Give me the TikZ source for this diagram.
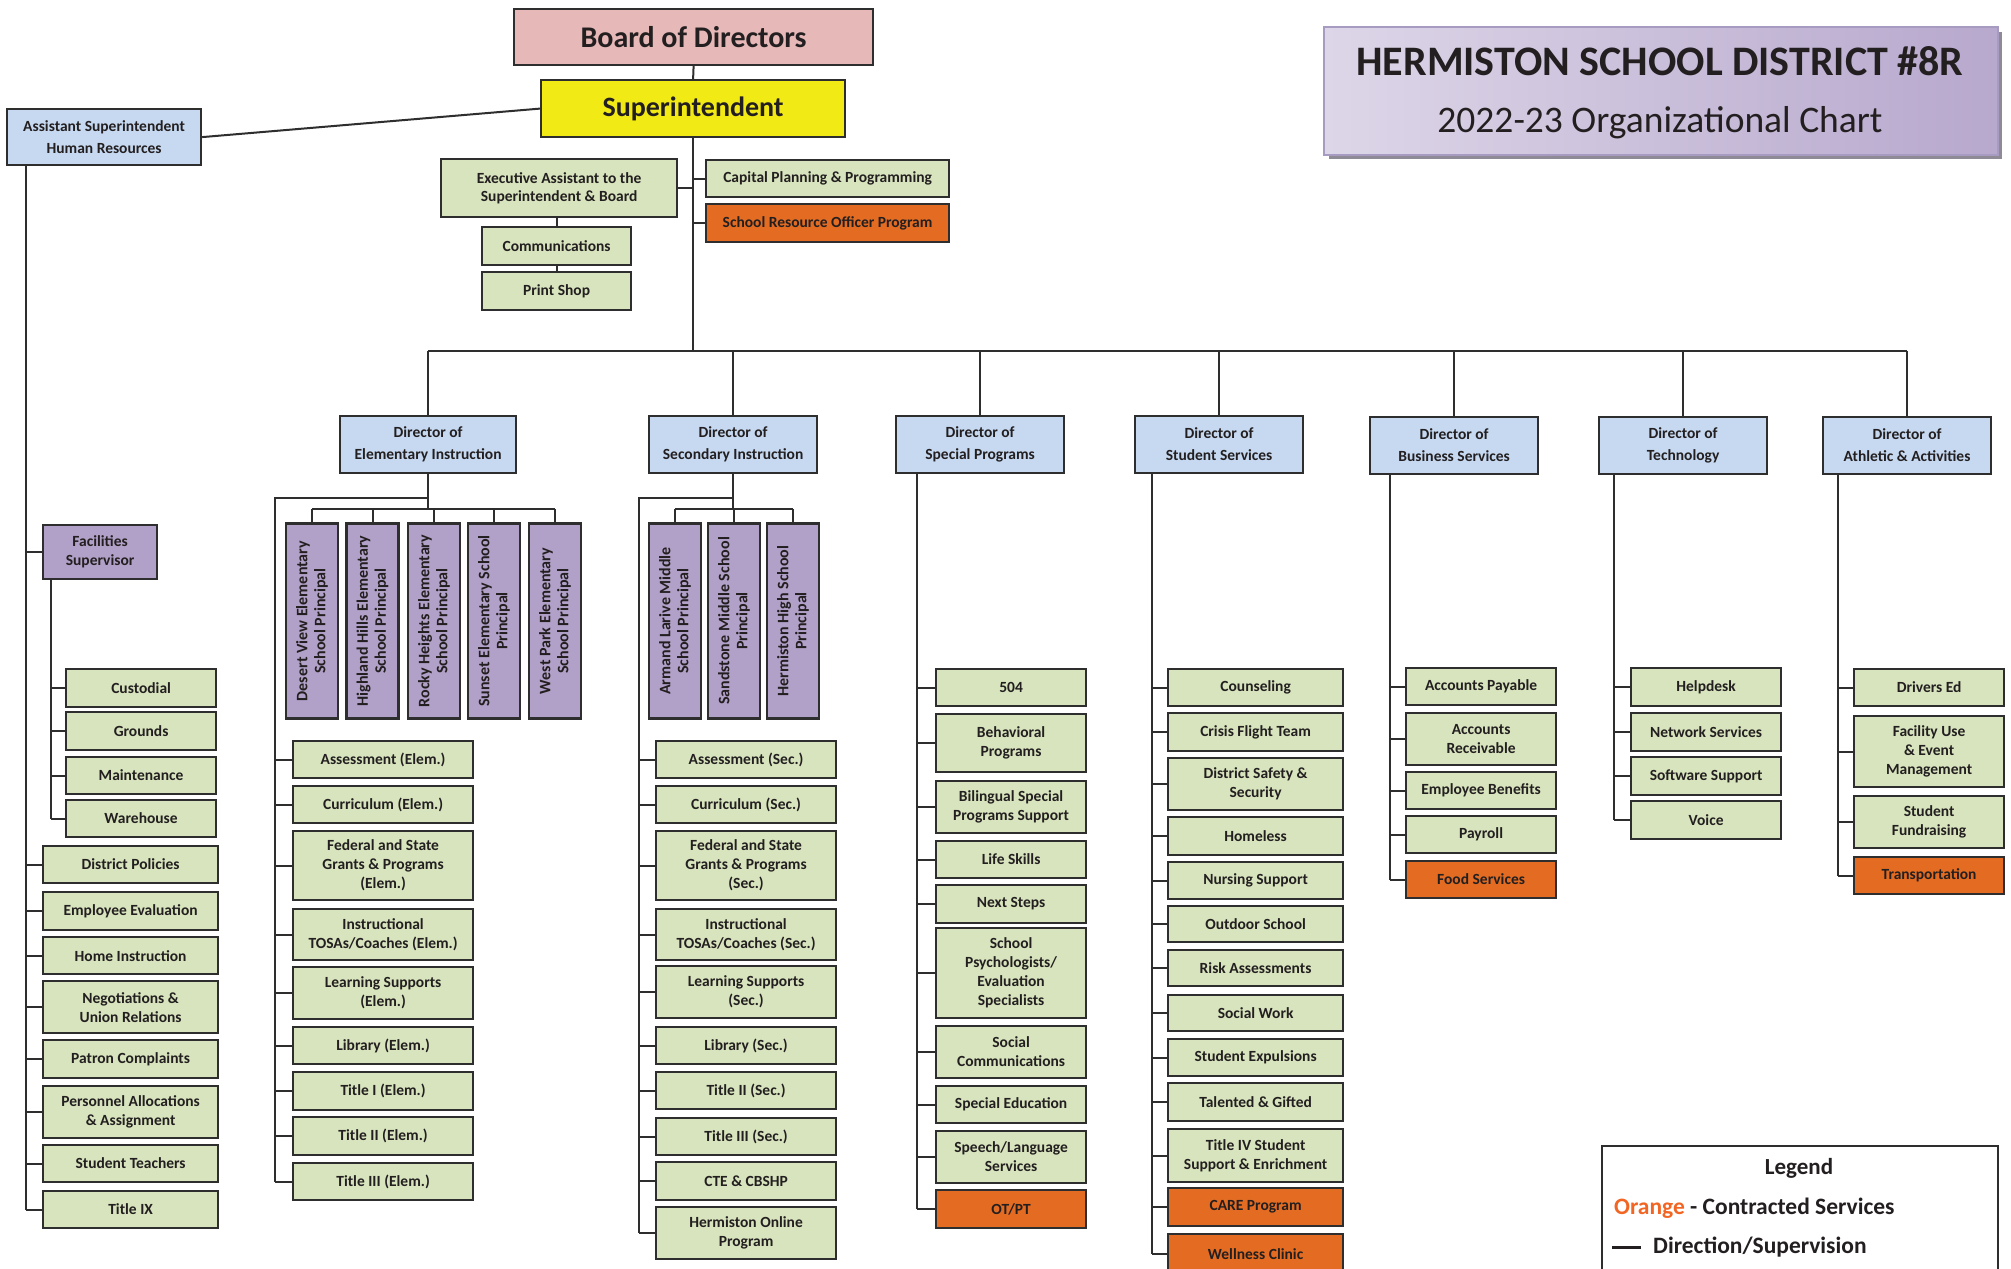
\documentclass[tikz,border=0pt]{standalone}
\usepackage{fontspec}
\setmainfont{Carlito}
\definecolor{gfill}{HTML}{D7E4BD}
\definecolor{bfill}{HTML}{C6D9F1}
\definecolor{pfill}{HTML}{B1A0C7}
\definecolor{ofill}{HTML}{E36C22}
\definecolor{boardfill}{HTML}{E6B8B7}
\definecolor{suptfill}{HTML}{F2EA14}
\definecolor{bord}{HTML}{2E2E2E}
\definecolor{txt}{HTML}{231F20}
\definecolor{legor}{HTML}{F26522}
\definecolor{tleft}{HTML}{DDD6E8}
\definecolor{tmid}{HTML}{E8E3EF}
\definecolor{tright}{HTML}{B7A8CD}
\definecolor{tborder}{HTML}{A89BC2}
\definecolor{tshadow}{HTML}{8E8A96}
\newcommand\bx[7]{\node[#1,minimum width=#5pt,minimum height=#6pt,anchor=north west] (#2) at (#3,#4) {#7};}
\begin{document}
\begin{tikzpicture}[x=1pt,y=-1pt,
  basebx/.style={draw=bord, line width=2.2pt, text=txt, align=center, inner sep=2pt, font=\bfseries\fontsize{15.5}{19}\selectfont},
  gbx/.style={basebx, fill=gfill},
  obx/.style={basebx, fill=ofill},
  dirbx/.style={basebx, fill=bfill, font=\bfseries\fontsize{15.5}{22}\selectfont},
  pbx/.style={basebx, fill=pfill, font=\bfseries\fontsize{16}{18}\selectfont, rotate=90, minimum width=195pt, minimum height=52pt},
  facbx/.style={basebx, fill=pfill, font=\bfseries\fontsize{15.5}{19}\selectfont},
  conn/.style={draw=bord, line width=2pt},
]
\useasboundingbox (0,0) rectangle (2011,1269);
\fill[white] (0,0) rectangle (2011,1269);

% title
\fill[tshadow] (1329,32) rectangle (2002,159);
\node[draw=tborder, line width=2pt, left color=tleft, middle color=tmid, right color=tright, minimum width=674pt, minimum height=128pt, anchor=north west] (title) at (1323,26) {};
\node[text=txt, font=\bfseries\fontsize{42}{48}\selectfont] (t1) at (1660,61) {HERMISTON SCHOOL DISTRICT \#8R};
\node[text=txt, font=\fontsize{37.5}{44}\selectfont] (t2) at (1660,123) {2022-23 Organizational Chart};

% top
\bx{basebx,fill=boardfill,font=\bfseries\fontsize{30}{34}\selectfont}{board}{513}{8}{359}{56}{Board of Directors}
\bx{basebx,fill=suptfill,font=\bfseries\fontsize{28}{32}\selectfont}{supt}{540}{79}{304}{57}{Superintendent}
\bx{dirbx}{asst}{6}{108}{194}{56}{Assistant Superintendent\\Human Resources}
\bx{gbx,font=\bfseries\fontsize{15.5}{18}\selectfont}{exec}{440}{158}{236}{58}{Executive Assistant to the\\Superintendent \& Board}
\bx{gbx}{cap}{705}{159}{243}{37}{Capital Planning \& Programming}
\bx{obx}{sro}{705}{203}{243}{38}{School Resource Officer Program}
\bx{gbx}{comm}{481}{226}{149}{38}{Communications}
\bx{gbx}{print}{481}{271}{149}{38}{Print Shop}

% directors
\bx{dirbx}{delem}{339}{415}{176}{57}{Director of\\Elementary Instruction}
\bx{dirbx}{dsec}{648}{415}{168}{57}{Director of\\Secondary Instruction}
\bx{dirbx}{dsp}{895}{415}{168}{57}{Director of\\Special Programs}
\bx{dirbx}{dss}{1134}{415}{168}{57}{Director of\\Student Services}
\bx{dirbx}{dbs}{1369}{416}{168}{57}{Director of\\Business Services}
\bx{dirbx}{dtc}{1598}{416}{168}{57}{Director of\\Technology}
\bx{dirbx}{dat}{1822}{416}{168}{57}{Director of\\Athletic \& Activities}

% HR column
\bx{facbx}{fac}{42}{524}{114}{54}{Facilities\\Supervisor}
\bx{gbx}{f1}{65}{668}{150}{38}{Custodial}
\bx{gbx}{f2}{65}{711}{150}{38}{Grounds}
\bx{gbx}{f3}{65}{756}{150}{37}{Maintenance}
\bx{gbx}{f4}{65}{799}{150}{37}{Warehouse}
\bx{gbx}{h1}{42}{845}{175}{37}{District Policies}
\bx{gbx}{h2}{42}{891}{175}{38}{Employee Evaluation}
\bx{gbx}{h3}{42}{936}{175}{37}{Home Instruction}
\bx{gbx}{h4}{42}{980}{175}{52}{Negotiations \&\\Union Relations}
\bx{gbx}{h5}{42}{1039}{175}{38}{Patron Complaints}
\bx{gbx}{h6}{42}{1085}{175}{52}{Personnel Allocations\\\& Assignment}
\bx{gbx}{h7}{42}{1144}{175}{37}{Student Teachers}
\bx{gbx}{h8}{42}{1190}{175}{37}{Title IX}

% Elementary
\node[pbx] (ep1) at (312,621) {Desert View Elementary\\School Principal};
\node[pbx] (ep2) at (372.5,621) {Highland Hills Elementary\\School Principal};
\node[pbx] (ep3) at (434,621) {Rocky Heights Elementary\\School Principal};
\node[pbx] (ep4) at (494,621) {Sunset Elementary School\\Principal};
\node[pbx] (ep5) at (555,621) {West Park Elementary\\School Principal};
\bx{gbx}{e1}{292}{740}{180}{37}{Assessment (Elem.)}
\bx{gbx}{e2}{292}{785}{180}{37}{Curriculum (Elem.)}
\bx{gbx}{e3}{292}{830}{180}{69}{Federal and State\\Grants \& Programs\\(Elem.)}
\bx{gbx}{e4}{292}{908}{180}{51}{Instructional\\TOSAs/Coaches (Elem.)}
\bx{gbx}{e5}{292}{966}{180}{52}{Learning Supports\\(Elem.)}
\bx{gbx}{e6}{292}{1026}{180}{37}{Library (Elem.)}
\bx{gbx}{e7}{292}{1071}{180}{38}{Title I (Elem.)}
\bx{gbx}{e8}{292}{1116}{180}{38}{Title II (Elem.)}
\bx{gbx}{e9}{292}{1162}{180}{37}{Title III (Elem.)}

% Secondary
\node[pbx] (sp1) at (675,621) {Armand Larive Middle\\School Principal};
\node[pbx] (sp2) at (734,621) {Sandstone Middle School\\Principal};
\node[pbx] (sp3) at (793,621) {Hermiston High School\\Principal};
\bx{gbx}{s1}{655}{740}{180}{37}{Assessment (Sec.)}
\bx{gbx}{s2}{655}{785}{180}{37}{Curriculum (Sec.)}
\bx{gbx}{s3}{655}{830}{180}{69}{Federal and State\\Grants \& Programs\\(Sec.)}
\bx{gbx}{s4}{655}{908}{180}{51}{Instructional\\TOSAs/Coaches (Sec.)}
\bx{gbx}{s5}{655}{965}{180}{52}{Learning Supports\\(Sec.)}
\bx{gbx}{s6}{655}{1026}{180}{37}{Library (Sec.)}
\bx{gbx}{s7}{655}{1071}{180}{37}{Title II (Sec.)}
\bx{gbx}{s8}{655}{1117}{180}{37}{Title III (Sec.)}
\bx{gbx}{s9}{655}{1161}{180}{38}{CTE \& CBSHP}
\bx{gbx}{s10}{655}{1206}{180}{52}{Hermiston Online\\Program}

% Special programs
\bx{gbx}{p1}{935}{668}{150}{37}{504}
\bx{gbx}{p2}{935}{713}{150}{58}{Behavioral\\Programs}
\bx{gbx}{p3}{935}{780}{150}{52}{Bilingual Special\\Programs Support}
\bx{gbx}{p4}{935}{840}{150}{37}{Life Skills}
\bx{gbx}{p5}{935}{884}{150}{38}{Next Steps}
\bx{gbx}{p6}{935}{927}{150}{90}{School\\Psychologists/\\Evaluation\\Specialists}
\bx{gbx}{p7}{935}{1025}{150}{52}{Social\\Communications}
\bx{gbx}{p8}{935}{1085}{150}{37}{Special Education}
\bx{gbx}{p9}{935}{1130}{150}{52}{Speech/Language\\Services}
\bx{obx}{p10}{935}{1189}{150}{38}{OT/PT}

% Student services
\bx{gbx}{u1}{1167}{668}{175}{37}{Counseling}
\bx{gbx}{u2}{1167}{712}{175}{38}{Crisis Flight Team}
\bx{gbx}{u3}{1167}{757}{175}{52}{District Safety \&\\Security}
\bx{gbx}{u4}{1167}{816}{175}{38}{Homeless}
\bx{gbx}{u5}{1167}{861}{175}{37}{Nursing Support}
\bx{gbx}{u6}{1167}{905}{175}{36}{Outdoor School}
\bx{gbx}{u7}{1167}{949}{175}{36}{Risk Assessments}
\bx{gbx}{u8}{1167}{994}{175}{36}{Social Work}
\bx{gbx}{u9}{1167}{1038}{175}{37}{Student Expulsions}
\bx{gbx}{u10}{1167}{1082}{175}{38}{Talented \& Gifted}
\bx{gbx}{u11}{1167}{1128}{175}{53}{Title IV Student\\Support \& Enrichment}
\bx{obx}{u12}{1167}{1187}{175}{38}{CARE Program}
\bx{obx}{u13}{1167}{1233}{175}{40}{Wellness Clinic}

% Business
\bx{gbx}{b1}{1405}{667}{150}{37}{Accounts Payable}
\bx{gbx}{b2}{1405}{712}{150}{52}{Accounts\\Receivable}
\bx{gbx}{b3}{1405}{771}{150}{37}{Employee Benefits}
\bx{gbx}{b4}{1405}{815}{150}{37}{Payroll}
\bx{obx}{b5}{1405}{860}{150}{37}{Food Services}

% Technology
\bx{gbx}{c1}{1630}{667}{150}{38}{Helpdesk}
\bx{gbx}{c2}{1630}{712}{150}{38}{Network Services}
\bx{gbx}{c3}{1630}{756}{150}{38}{Software Support}
\bx{gbx}{c4}{1630}{800}{150}{38}{Voice}

% Athletic
\bx{gbx}{a1}{1853}{668}{150}{37}{Drivers Ed}
\bx{gbx}{a2}{1853}{715}{150}{71}{Facility Use\\\& Event\\Management}
\bx{gbx}{a3}{1853}{795}{150}{52}{Student\\Fundraising}
\bx{obx}{a4}{1853}{856}{150}{37}{Transportation}

% trunk coordinates
\coordinate (bus) at (0,351);
\coordinate (hrT) at (26,0);
\coordinate (facT) at (51,0);
\coordinate (eT) at (275,0);
\coordinate (eH) at (0,498);
\coordinate (pbus) at (0,509);
\coordinate (sT) at (639,0);
\coordinate (spT) at (917,0);
\coordinate (ssT) at (1152,0);
\coordinate (bsT) at (1390,0);
\coordinate (tcT) at (1614,0);
\coordinate (atT) at (1838,0);

% top connectors
\draw[conn] (board.south) -- (supt.north);
\draw[conn] (asst.east) -- (supt.west);
\draw[conn] (supt.south) -- (supt.south |- bus);
\draw[conn] (exec.east) -- (supt.south |- exec.east);
\draw[conn] (supt.south |- cap.west) -- (cap.west);
\draw[conn] (supt.south |- sro.west) -- (sro.west);
\draw[conn] (comm.north) -- (comm.north |- exec.south);
\draw[conn] (print.north) -- (comm.south);
\draw[conn] (delem.north |- bus) -- (dat.north |- bus);
\foreach \n in {delem,dsec,dsp,dss,dbs,dtc,dat} \draw[conn] (\n.north) -- (\n.north |- bus);

% HR
\draw[conn] (hrT |- asst.south) -- (hrT |- h8.west);
\foreach \n in {fac,h1,h2,h3,h4,h5,h6,h7,h8} \draw[conn] (hrT |- \n.west) -- (\n.west);
\draw[conn] (facT |- fac.south) -- (facT |- f4.west);
\foreach \n in {f1,f2,f3,f4} \draw[conn] (facT |- \n.west) -- (\n.west);

% Elementary
\draw[conn] (delem.south) -- (delem.south |- pbus);
\draw[conn] (delem.south |- eH) -| (eT |- e9.west);
\draw[conn] (ep1.east |- pbus) -- (ep5.east |- pbus);
\foreach \n in {ep1,ep2,ep3,ep4,ep5} \draw[conn] (\n.east) -- (\n.east |- pbus);
\foreach \n in {e1,e2,e3,e4,e5,e6,e7,e8,e9} \draw[conn] (eT |- \n.west) -- (\n.west);

% Secondary
\draw[conn] (dsec.south) -- (dsec.south |- pbus);
\draw[conn] (dsec.south |- eH) -| (sT |- s10.west);
\draw[conn] (sp1.east |- pbus) -- (sp3.east |- pbus);
\foreach \n in {sp1,sp2,sp3} \draw[conn] (\n.east) -- (\n.east |- pbus);
\foreach \n in {s1,s2,s3,s4,s5,s6,s7,s8,s9,s10} \draw[conn] (sT |- \n.west) -- (\n.west);

% Special programs
\draw[conn] (spT |- dsp.south) -- (spT |- p10.west);
\foreach \n in {p1,p2,p3,p4,p5,p6,p7,p8,p9,p10} \draw[conn] (spT |- \n.west) -- (\n.west);

% Student services
\draw[conn] (ssT |- dss.south) -- (ssT |- u13.west);
\foreach \n in {u1,u2,u3,u4,u5,u6,u7,u8,u9,u10,u11,u12,u13} \draw[conn] (ssT |- \n.west) -- (\n.west);

% Business
\draw[conn] (bsT |- dbs.south) -- (bsT |- b5.west);
\foreach \n in {b1,b2,b3,b4,b5} \draw[conn] (bsT |- \n.west) -- (\n.west);

% Technology
\draw[conn] (tcT |- dtc.south) -- (tcT |- c4.west);
\foreach \n in {c1,c2,c3,c4} \draw[conn] (tcT |- \n.west) -- (\n.west);

% Athletic
\draw[conn] (atT |- dat.south) -- (atT |- a4.west);
\foreach \n in {a1,a2,a3,a4} \draw[conn] (atT |- \n.west) -- (\n.west);

% legend
\node[draw=bord, line width=1.6pt, minimum width=396pt, minimum height=140pt, anchor=north west] (legend) at (1601,1145) {};
\node[text=txt, font=\bfseries\fontsize{23}{27}\selectfont] (lg1) at (1799,1168) {Legend};
\node[anchor=west, inner sep=0pt, text=txt, font=\bfseries\fontsize{23.5}{27}\selectfont] (lg2) at (1614,1208) {\textcolor{legor}{Orange} - Contracted Services};
\node[anchor=west, inner sep=0pt, text=txt, font=\bfseries\fontsize{23.5}{27}\selectfont] (lg3) at (1653,1247) {Direction/Supervision};
\draw[txt, line width=3pt] ([xshift=-12pt]lg3.west) -- ([xshift=-41pt]lg3.west);
\end{tikzpicture}
\end{document}
